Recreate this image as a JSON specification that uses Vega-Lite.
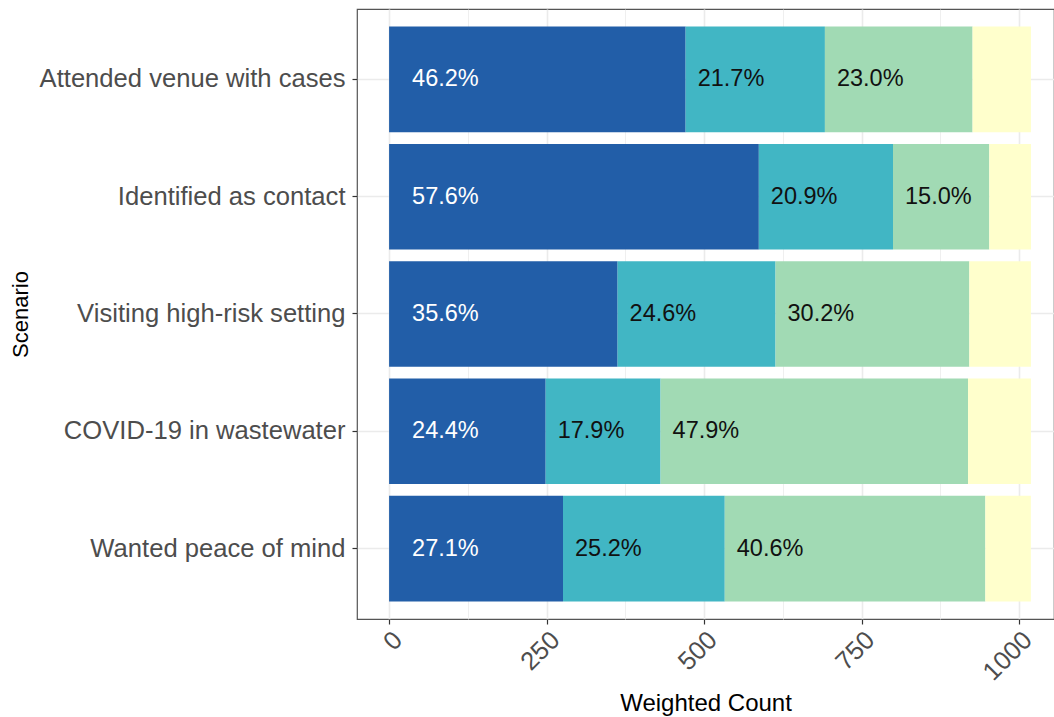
{
  "$schema": "https://vega.github.io/schema/vega-lite/v6.json",
  "autosize": "none",
  "width": 697,
  "height": 610,
  "padding": {"left": 357, "top": 9, "right": 0, "bottom": 98},
  "background": "white",
  "config": {
    "view": {"stroke": "#555555", "strokeWidth": 1.2},
    "font": "Liberation Sans"
  },
  "data": {
    "values": [
      {"scenario": "Attended venue with cases", "category": "Group 1", "order": 1, "count": 470.8, "label": "46.2%"},
      {"scenario": "Attended venue with cases", "category": "Group 2", "order": 2, "count": 221.1, "label": "21.7%"},
      {"scenario": "Attended venue with cases", "category": "Group 3", "order": 3, "count": 234.4, "label": "23.0%"},
      {"scenario": "Attended venue with cases", "category": "Group 4", "order": 4, "count": 92.7, "label": "9.1%"},
      {"scenario": "Identified as contact", "category": "Group 1", "order": 1, "count": 587.0, "label": "57.6%"},
      {"scenario": "Identified as contact", "category": "Group 2", "order": 2, "count": 213.0, "label": "20.9%"},
      {"scenario": "Identified as contact", "category": "Group 3", "order": 3, "count": 152.9, "label": "15.0%"},
      {"scenario": "Identified as contact", "category": "Group 4", "order": 4, "count": 66.2, "label": "6.5%"},
      {"scenario": "Visiting high-risk setting", "category": "Group 1", "order": 1, "count": 362.8, "label": "35.6%"},
      {"scenario": "Visiting high-risk setting", "category": "Group 2", "order": 2, "count": 250.7, "label": "24.6%"},
      {"scenario": "Visiting high-risk setting", "category": "Group 3", "order": 3, "count": 307.7, "label": "30.2%"},
      {"scenario": "Visiting high-risk setting", "category": "Group 4", "order": 4, "count": 97.8, "label": "9.6%"},
      {"scenario": "COVID-19 in wastewater", "category": "Group 1", "order": 1, "count": 248.6, "label": "24.4%"},
      {"scenario": "COVID-19 in wastewater", "category": "Group 2", "order": 2, "count": 182.4, "label": "17.9%"},
      {"scenario": "COVID-19 in wastewater", "category": "Group 3", "order": 3, "count": 488.1, "label": "47.9%"},
      {"scenario": "COVID-19 in wastewater", "category": "Group 4", "order": 4, "count": 99.9, "label": "9.8%"},
      {"scenario": "Wanted peace of mind", "category": "Group 1", "order": 1, "count": 276.1, "label": "27.1%"},
      {"scenario": "Wanted peace of mind", "category": "Group 2", "order": 2, "count": 256.8, "label": "25.2%"},
      {"scenario": "Wanted peace of mind", "category": "Group 3", "order": 3, "count": 413.7, "label": "40.6%"},
      {"scenario": "Wanted peace of mind", "category": "Group 4", "order": 4, "count": 72.3, "label": "7.1%"}
    ]
  },
  "transform": [
    {"stack": "count", "groupby": ["scenario"], "sort": [{"field": "order", "order": "ascending"}], "as": ["x0", "x1"]}
  ],
  "encoding": {
    "y": {
      "field": "scenario",
      "type": "nominal",
      "sort": ["Attended venue with cases", "Identified as contact", "Visiting high-risk setting", "COVID-19 in wastewater", "Wanted peace of mind"],
      "scale": {"paddingInner": 0.1, "paddingOuter": 0.15},
      "axis": {
        "title": "Scenario",
        "titleFontSize": 22,
        "titleFontWeight": "normal",
        "titleColor": "#000000",
        "titleX": -337,
        "titleAngle": -90,
        "titleBaseline": "middle",
        "titleAlign": "center",
        "labelFontSize": 25.6,
        "labelColor": "#4D4D4D",
        "labelPadding": 7,
        "labelLimit": 0,
        "tickSize": 5,
        "tickColor": "#333333",
        "tickWidth": 1.2,
        "domain": false,
        "grid": true,
        "gridColor": "#EBEBEB",
        "gridWidth": 1.6,
        "bandPosition": 0.5
      }
    }
  },
  "layer": [
    {
      "mark": {"type": "bar", "opacity": 0},
      "encoding": {
        "x": {
          "field": "x0",
          "type": "quantitative",
          "axis": {
            "orient": "top",
            "values": [125, 375, 625, 875],
            "grid": true,
            "gridColor": "#EBEBEB",
            "gridWidth": 0.8,
            "labels": false,
            "ticks": false,
            "domain": false,
            "title": null
          }
        },
        "x2": {"field": "x1"}
      }
    },
    {
      "mark": {"type": "bar", "clip": true},
      "encoding": {
        "x": {
          "field": "x0",
          "type": "quantitative",
          "scale": {"domain": [-50.95, 1055.6], "nice": false, "zero": false},
          "axis": {
            "title": "Weighted Count",
            "titleFontSize": 24,
            "titleFontWeight": "normal",
            "titleColor": "#000000",
            "titleY": 72,
            "titleBaseline": "top",
            "values": [0, 250, 500, 750, 1000],
            "format": "d",
            "labelFontSize": 25.6,
            "labelColor": "#4D4D4D",
            "labelAngle": -45,
            "labelAlign": "right",
            "labelBaseline": "top",
            "labelPadding": 3,
            "tickSize": 5,
            "tickColor": "#333333",
            "tickWidth": 1.2,
            "domain": false,
            "grid": true,
            "gridColor": "#EBEBEB",
            "gridWidth": 1.6
          }
        },
        "x2": {"field": "x1"},
        "color": {
          "field": "category",
          "type": "nominal",
          "scale": {"domain": ["Group 1", "Group 2", "Group 3", "Group 4"], "range": ["#225EA8", "#41B6C4", "#A1DAB4", "#FFFFCC"]},
          "legend": null
        }
      }
    },
    {
      "transform": [{"filter": "datum.order === 1"}],
      "mark": {"type": "text", "align": "left", "baseline": "middle", "dx": 23, "fontSize": 23.5, "color": "white"},
      "encoding": {
        "x": {"field": "x0", "type": "quantitative", "axis": null},
        "text": {"field": "label"}
      }
    },
    {
      "transform": [{"filter": "datum.order === 2 || datum.order === 3"}],
      "mark": {"type": "text", "align": "left", "baseline": "middle", "dx": 12, "fontSize": 23.5, "color": "#111111"},
      "encoding": {
        "x": {"field": "x0", "type": "quantitative", "axis": null},
        "text": {"field": "label"}
      }
    }
  ],
  "resolve": {"axis": {"x": "independent"}}
}
